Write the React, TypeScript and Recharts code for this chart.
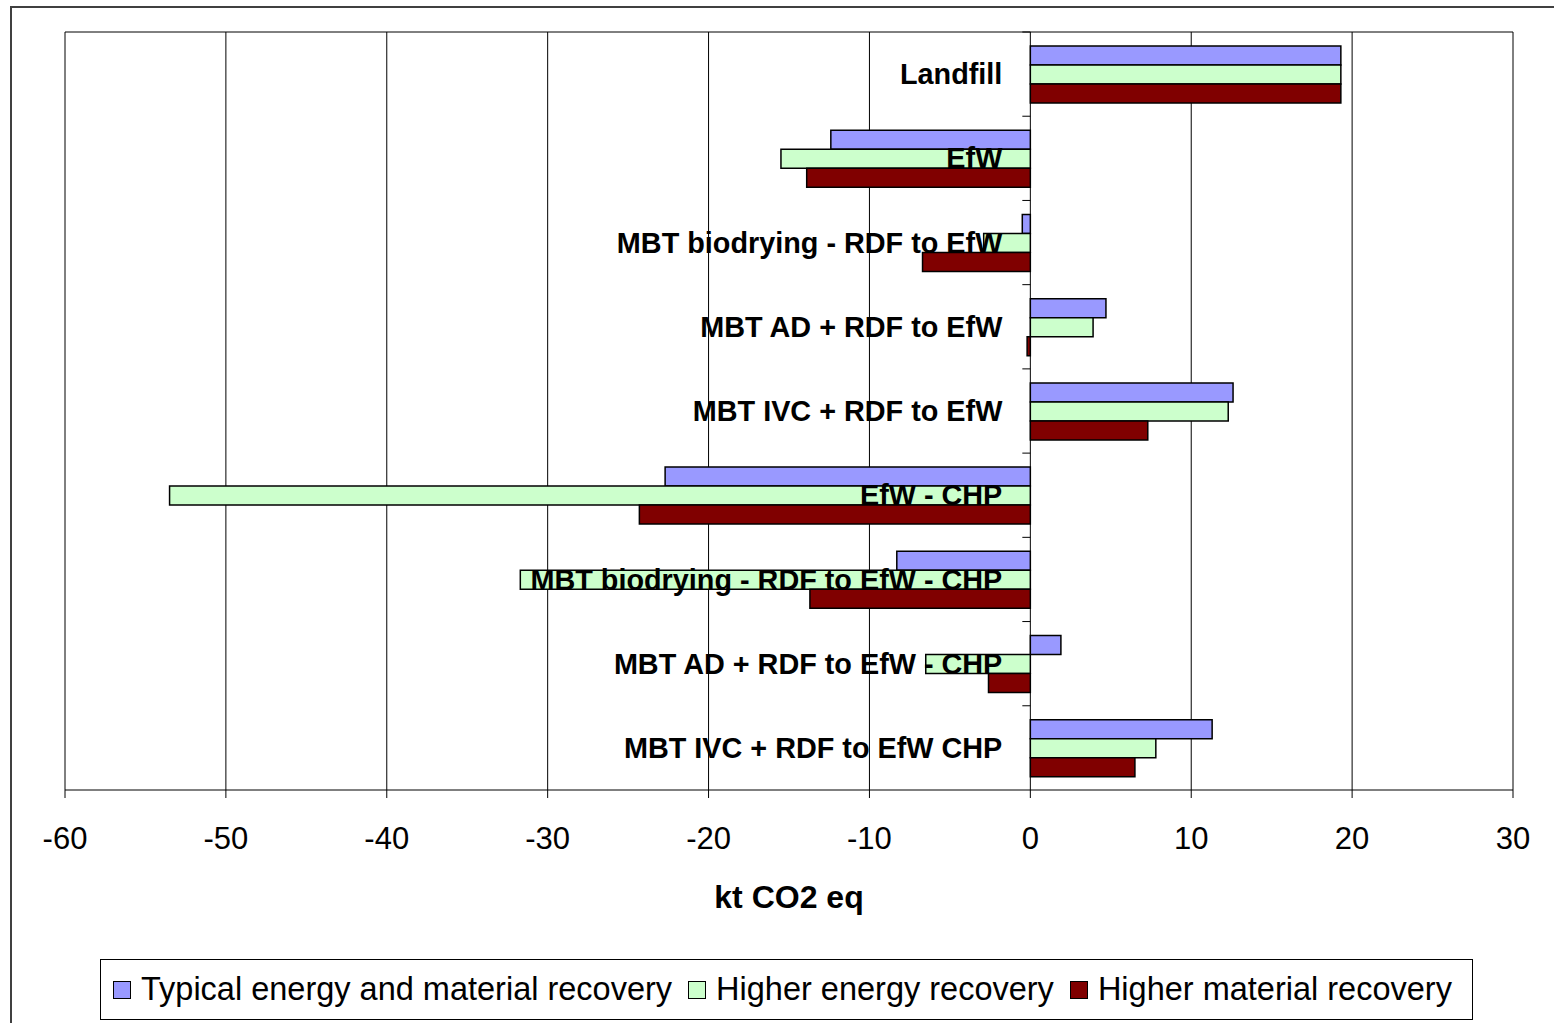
import { BarChart, Bar, XAxis, YAxis, CartesianGrid } from "recharts";

const categories = [
  "Landfill",
  "EfW",
  "MBT biodrying - RDF to EfW",
  "MBT AD + RDF to EfW",
  "MBT IVC + RDF to EfW",
  "EfW - CHP",
  "MBT biodrying - RDF to EfW - CHP",
  "MBT AD + RDF to EfW - CHP",
  "MBT IVC + RDF to EfW CHP",
];
const typicalRecovery = [19.3, -12.4, -0.5, 4.7, 12.6, -22.7, -8.3, 1.9, 11.3];
const higherEnergy = [19.3, -15.5, -2.9, 3.9, 12.3, -53.5, -31.7, -6.5, 7.8];
const higherMaterial = [19.3, -13.9, -6.7, -0.2, 7.3, -24.3, -13.7, -2.6, 6.5];
const xTicks = [-60, -50, -40, -30, -20, -10, 0, 10, 20, 30];

const series = [
  { key: "typical", name: "Typical energy and material recovery", color: "#9999FF" },
  { key: "energy", name: "Higher energy recovery", color: "#CCFFCC" },
  { key: "material", name: "Higher material recovery", color: "#800000" },
];

const data = categories.map((name, i) => ({
  name,
  typical: typicalRecovery[i],
  energy: higherEnergy[i],
  material: higherMaterial[i],
}));

const FONT = "'Liberation Sans', Arial, sans-serif";
const W = 1554;
const H = 1023;
const M = { top: 31, right: 41, bottom: 108, left: 64 };
const X_AXIS_H = 125;
const PLOT_LEFT = M.left + 1;
const PLOT_TOP = M.top + 1;
const PLOT_W = W - PLOT_LEFT - M.right;
const PLOT_H = H - PLOT_TOP - M.bottom - X_AXIS_H;
const DOMAIN: [number, number] = [-60, 30];
const ZERO_X = PLOT_LEFT + (PLOT_W * (0 - DOMAIN[0])) / (DOMAIN[1] - DOMAIN[0]);
const BAND = PLOT_H / categories.length;

// category names sit just left of the zero line, with a small tick at each band edge
const renderCategoryTick = (props: any) => {
  const { y, payload } = props;
  return (
    <g key={`cat-${payload.value}`}>
      <line x1={ZERO_X - 8} x2={ZERO_X} y1={y - BAND / 2} y2={y - BAND / 2} stroke="#000" />
      <text
        x={ZERO_X - 28}
        y={y}
        dy="0.35em"
        textAnchor="end"
        fontFamily={FONT}
        fontWeight="bold"
        fontSize={28.8}
        fill="#000"
      >
        {payload.value}
      </text>
    </g>
  );
};

const LegendBox = () => (
  <div
    style={{
      position: "absolute",
      left: 100,
      top: 959,
      width: 1373,
      height: 61,
      border: "1px solid #000",
      boxSizing: "border-box",
      display: "flex",
      alignItems: "center",
      paddingLeft: 12,
      fontFamily: FONT,
      fontSize: 32.5,
      gap: 16,
      whiteSpace: "nowrap",
      background: "#fff",
    }}
  >
    {series.map((s) => (
      <div
        key={s.key}
        style={{ display: "flex", alignItems: "center", gap: 10, flexShrink: 0 }}
      >
        <span
          style={{
            display: "inline-block",
            width: 16,
            height: 16,
            background: s.color,
            border: "1.5px solid #000",
          }}
        />
        <span>{s.name}</span>
      </div>
    ))}
  </div>
);

export default function App() {
  return (
    <div style={{ position: "absolute", left: 0, top: 0, width: W, height: H, background: "#fff" }}>
      <div
        style={{
          position: "absolute",
          left: 10,
          top: 6,
          width: W,
          height: H,
          borderLeft: "2px solid #404040",
          borderTop: "2px solid #404040",
        }}
      />
      <div style={{ position: "absolute", left: 0, top: 0 }}>
        <BarChart
          width={W}
          height={H}
          data={data}
          layout="vertical"
          margin={M}
          barGap={0}
          barSize={19}
        >
          <CartesianGrid horizontal={false} stroke="#000" strokeWidth={1} />
          <XAxis
            type="number"
            domain={DOMAIN}
            ticks={xTicks}
            interval={0}
            height={X_AXIS_H}
            axisLine={{ stroke: "#000" }}
            tickLine={{ stroke: "#000" }}
            tickSize={8}
            tickMargin={29}
            tick={{ fill: "#000", fontSize: 31, fontFamily: FONT }}
            label={{
              value: "kt CO2 eq",
              position: "insideBottom",
              offset: 7,
              fill: "#000",
              fontSize: 32,
              fontWeight: "bold",
              fontFamily: FONT,
            }}
          />
          <XAxis
            xAxisId="top"
            orientation="top"
            type="number"
            domain={DOMAIN}
            height={1}
            tick={false}
            tickLine={false}
            axisLine={{ stroke: "#000" }}
          />
          {series.map((s) => (
            <Bar
              key={s.key}
              dataKey={s.key}
              name={s.name}
              fill={s.color}
              stroke="#000"
              strokeWidth={1.5}
              isAnimationActive={false}
            />
          ))}
          <YAxis
            type="category"
            dataKey="name"
            width={1}
            axisLine={false}
            tickLine={false}
            interval={0}
            tick={renderCategoryTick}
          />
        </BarChart>
      </div>
      <LegendBox />
    </div>
  );
}
